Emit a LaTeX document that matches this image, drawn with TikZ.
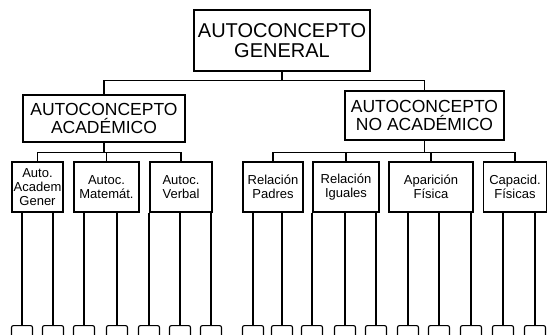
\documentclass[tikz,border=0pt]{standalone}
\usepackage{fontspec}
\setmainfont{Liberation Sans}
\begin{document}
\begin{tikzpicture}[x=1pt,y=-1pt,
  box/.style={draw,line width=1.3pt,inner sep=0pt,align=center},
  big/.style={box,font=\fontsize{20}{20}\selectfont},
  mid/.style={box,font=\fontsize{17.5}{17.5}\selectfont},
  small/.style={box,minimum height=50pt,font=\fontsize{13}{14}\selectfont},
  leaf/.style={draw,line width=1.1pt,rounded corners=2pt,minimum width=21pt,minimum height=12pt,inner sep=0pt},
  link/.style={line width=1.1pt}]
\useasboundingbox (0,0) rectangle (547,335);
\node[big,minimum width=176pt,minimum height=61pt] (general) at (282,40.5) {AUTOCONCEPTO\\GENERAL};
\node[mid,minimum width=162pt,minimum height=47pt] (acad) at (104,118.5) {AUTOCONCEPTO\\ACADÉMICO};
\node[mid,minimum width=159pt,minimum height=49pt] (noacad) at (424.5,115.5) {AUTOCONCEPTO\\NO ACADÉMICO};
\node[small,minimum width=51pt] (academ) at (37.5,187) {Auto.\\Academ\\Gener};
\node[small,minimum width=65pt] (matem) at (106.5,187) {Autoc.\\Matemát.};
\node[small,minimum width=62pt] (verbal) at (181,187) {Autoc.\\Verbal};
\node[small,minimum width=60pt] (padres) at (273,187) {Relación\\Padres};
\node[small,minimum width=66pt] (iguales) at (346,187) {Relación\\Iguales};
\node[small,minimum width=84pt] (aparic) at (431,187) {Aparición\\Física};
\node[small,minimum width=63pt] (capac) at (515,187) {Capacid.\\Físicas};
\draw[link] (general.south) -- ++(0,9) -| (acad.north);
\draw[link] (general.south) -- ++(0,9) -| (noacad.north);
\foreach \b in {academ,matem,verbal}
  \draw[link] (acad.south) -- ++(0,10) -| (\b.north);
\foreach \b in {padres,iguales,aparic,capac}
  \draw[link] (noacad.south) -- ++(0,12) -| (\b.north);
% leaves
\foreach \x/\p [count=\i] in {22/academ,53/academ,84/matem,117/matem,149/verbal,180/verbal,211/verbal,
    253/padres,282/padres,312/iguales,345/iguales,376/iguales,408/aparic,439/aparic,471/aparic,503/capac,535/capac} {
  \node[leaf,anchor=north] (leaf\i) at (\x,325) {};
  \draw[link] (leaf\i.north) -- (leaf\i.north |- \p.south);
}
\end{tikzpicture}
\end{document}
